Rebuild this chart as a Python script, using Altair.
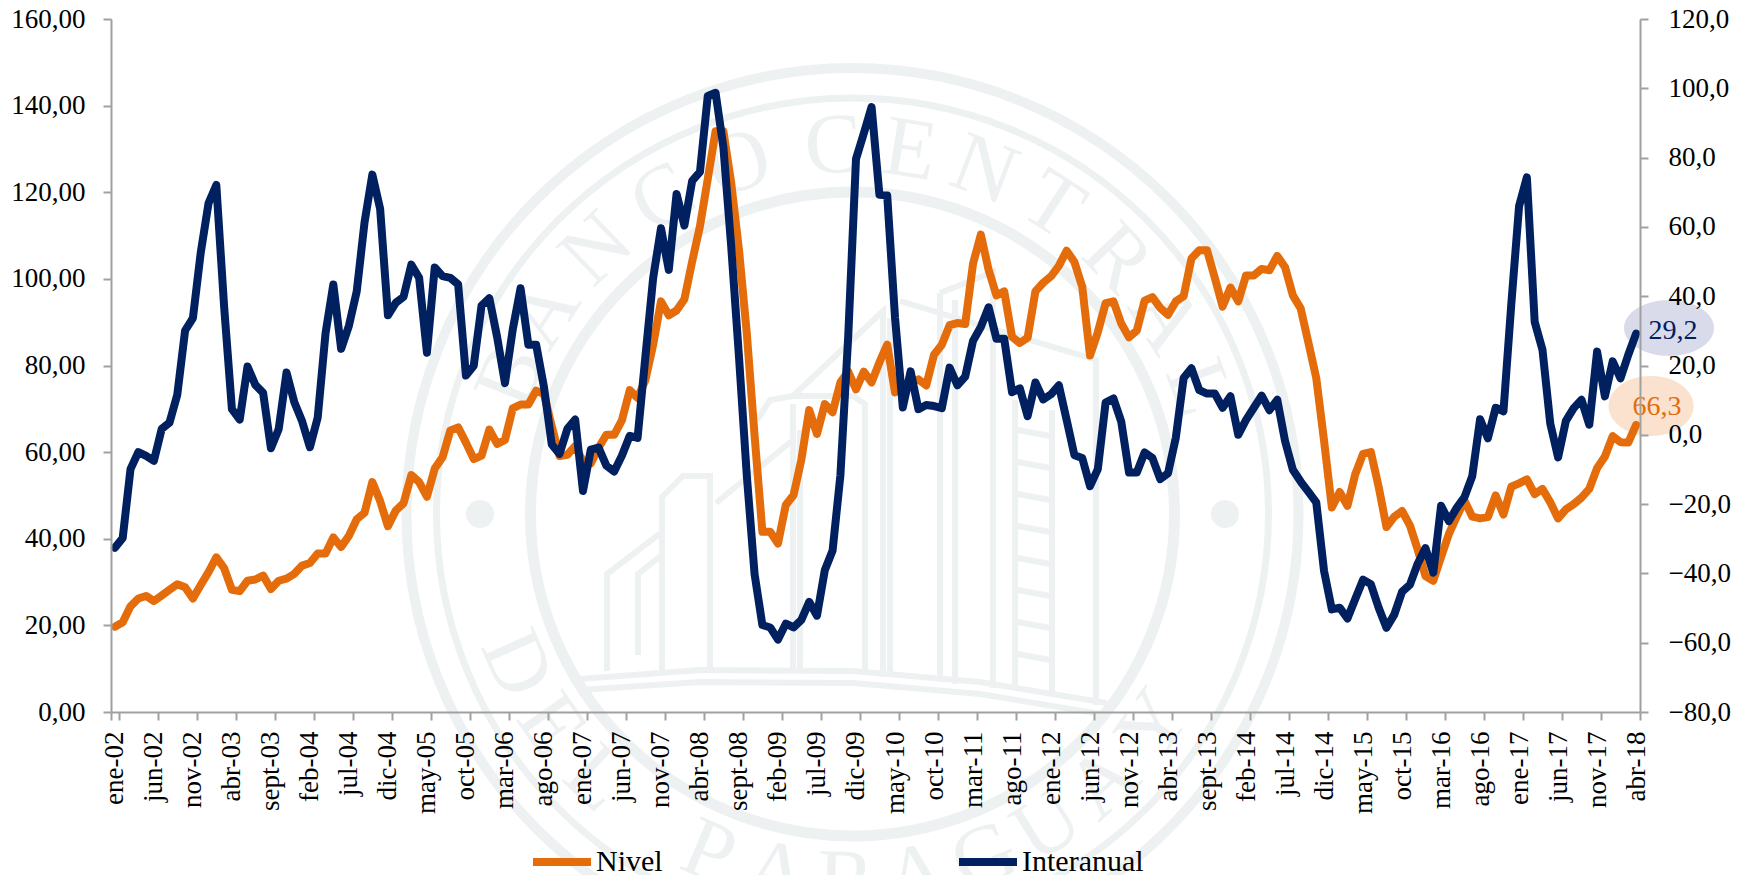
import math
import altair as alt
import pandas as pd

MONTHS = ["ene","feb","mar","abr","may","jun","jul","ago","sept","oct","nov","dic"]
labels = [f"{MONTHS[i % 12]}-{(2 + i // 12):02d}" for i in range(196)]
tick_labels = labels[::5]

nivel = [19.7,20.7,24.4,26.2,26.8,25.6,26.9,28.2,29.5,28.8,
26.2,29.3,32.3,35.7,33.2,28.2,27.9,30.3,30.6,31.5,
28.4,30.3,30.8,31.9,33.8,34.4,36.6,36.6,40.3,38.1,
40.7,44.5,46.0,53.1,48.7,42.9,46.5,48.2,54.7,53.1,
49.7,56.2,58.8,65.0,65.7,62.2,58.4,59.2,65.2,61.9,
62.8,70.1,71.0,71.0,74.2,73.4,66.0,59.1,59.4,61.4,
57.8,57.4,61.0,64.0,64.0,67.4,74.3,72.5,76.6,84.8,
94.8,91.6,92.7,95.3,104.0,112.2,123.1,134.1,134.1,122.2,
106.7,87.5,63.8,41.6,41.6,38.9,47.8,50.1,58.3,69.7,
64.2,71.1,69.2,76.1,78.6,74.5,78.6,76.1,80.7,84.8,
73.8,75.2,76.1,76.8,75.4,82.5,84.8,89.3,89.8,89.6,
103.5,110.2,102.1,96.2,97.1,86.6,85.2,86.4,97.1,99.1,
100.6,103.0,106.5,103.9,98.2,82.3,87.7,94.4,94.8,89.7,
86.5,88.1,95.0,95.8,93.3,91.7,94.8,96.0,104.7,106.6,
106.6,100.2,93.6,98.0,94.8,100.8,100.8,102.3,102.0,105.3,
102.7,96.2,93.2,85.2,77.1,62.6,47.2,50.8,47.6,54.9,
59.6,60.0,52.0,42.7,45.1,46.4,43.1,37.5,31.4,30.3,
35.8,41.1,45.1,48.8,45.1,44.7,45.0,50.0,45.6,52.0,
52.8,53.7,50.3,51.5,48.4,44.7,46.8,48.0,49.5,51.5,
56.3,59.0,63.7,62.3,62.2,66.3]

interanual = [-32.6,-29.8,-9.9,-5.0,-6.1,-7.5,1.7,3.5,11.6,30.1,
33.7,52.5,66.8,72.1,37.0,7.4,4.4,19.7,14.4,12.1,
-3.9,1.7,18.0,9.4,3.9,-3.6,5.0,29.3,43.4,24.8,
31.5,41.4,61.3,75.1,65.2,34.5,38.1,39.8,49.1,45.3,
23.7,48.3,45.8,45.3,43.4,17.1,19.9,37.3,39.4,28.2,
14.9,30.4,42.3,26.0,26.0,13.8,-2.8,-5.5,1.7,4.4,
-16.2,-4.3,-3.7,-8.9,-10.6,-6.0,-0.3,-0.9,22.5,45.3,
59.6,47.6,69.5,60.4,73.3,75.9,97.8,98.7,83.0,54.5,
22.5,-11.7,-40.2,-54.9,-55.6,-59.1,-54.5,-55.6,-53.4,-48.2,
-52.2,-39.1,-33.4,-11.7,28.2,79.6,87.0,94.6,69.3,69.1,
33.9,7.9,18.3,7.4,8.6,8.3,7.7,19.4,14.3,16.8,
27.1,31.1,36.8,27.7,27.7,12.3,13.4,5.4,15.1,10.2,
11.7,14.3,4.3,-5.9,-6.7,-14.8,-9.9,9.3,10.5,3.8,
-10.9,-10.9,-5.1,-6.7,-12.8,-11.1,-0.8,16.4,19.2,12.9,
11.9,11.9,7.8,11.1,0.0,4.3,7.8,11.3,7.1,10.1,
-1.8,-10.1,-13.5,-16.5,-19.5,-39.3,-50.4,-49.9,-53.0,-47.4,
-41.8,-43.1,-49.9,-55.7,-51.9,-45.3,-43.3,-37.2,-32.7,-39.8,
-20.5,-24.9,-21.1,-18.0,-11.9,4.5,-1.0,7.8,6.8,37.7,
66.0,74.3,32.6,24.5,3.2,-6.5,4.0,7.7,10.1,2.9,
24.0,11.1,21.2,16.3,23.1,29.2]

series_names = ["Nivel", "Interanual"]
series_colors = ["#E46C0A", "#002060"]

FONT = "Liberation Serif"
W, H = 1529, 693
OX, OY = 111, 19
WM = "#eef1f2"
CX, CY = 852.5 - OX, 514 - OY
LINE_W = 8

df = pd.DataFrame({"mes": labels, "nivel": nivel, "interanual": interanual})
one = pd.DataFrame({"a": [0]})

# Watermark: rings, dots, building and lettering
def ring(r, sw):
    return alt.Chart(one).mark_point(shape="circle", filled=False, size=(2 * r) ** 2,
                                     stroke=WM, strokeWidth=sw, opacity=1).encode(
        x=alt.value(CX), y=alt.value(CY))

layers = [ring(446, 10), ring(416, 7), ring(322, 11)]

for dx in (-372.5, 372.5):
    layers.append(alt.Chart(one).mark_point(shape="circle", filled=True, size=28 ** 2,
                                            fill=WM, opacity=1).encode(
        x=alt.value(CX + dx), y=alt.value(CY)))

building = [
    [(607,671),(607,574),(662,532),(662,497),(683,476),(710,476),(710,671)],
    [(638,655),(638,574),(662,555)],
    [(662,532),(662,671)],
    [(716,503),(793,440)],
    [(757,420),(770,400),(793,396),(853,396),(865,404),(865,673)],
    [(793,396),(883,311),(883,677)],
    [(793,404),(793,673)],
    [(800,430),(800,673)],
    [(890,318),(890,677)],
    [(900,301),(1096,360),(1096,705)],
    [(940,293),(940,682)],
    [(955,300),(955,684)],
    [(940,293),(993,272),(993,688)],
    [(1015,400),(1015,690)],
    [(1052,410),(1052,695)],
    [(580,679),(700,670),(853,671),(980,682),(1107,703)],
    [(580,690),(700,682),(853,683),(980,694),(1107,715)],
]
for yy in range(430, 680, 32):
    building.append([(1018, yy), (1050, yy + 6)])
path = " ".join(
    "M" + " L".join(f"{x - 852.5:.1f},{y - 514:.1f}" for x, y in poly) for poly in building
)
layers.append(alt.Chart(one).mark_point(shape=path, size=4, filled=False, stroke=WM,
                                        strokeWidth=6, opacity=1).encode(
    x=alt.value(CX), y=alt.value(CY)))

top_letters = list(zip("BANCO", [-68, -57, -44, -31, -18])) + \
              list(zip("CENTRAL", [-3, 9, 21, 33, 46, 58, 70]))
bottom_letters = list(zip("DEL", [-66, -55, -44])) + \
                 list(zip("PARAGUAY", [-23, -12, -1, 10, 21, 32, 43, 55]))
R = 368
for ch, th in top_letters:
    t = math.radians(th)
    layers.append(alt.Chart(one).mark_text(text=ch, font=FONT, fontSize=86, color=WM,
                                           baseline="middle", align="center",
                                           angle=th % 360).encode(
        x=alt.value(CX + R * math.sin(t)), y=alt.value(CY - R * math.cos(t))))
for ch, th in bottom_letters:
    t = math.radians(th)
    layers.append(alt.Chart(one).mark_text(text=ch, font=FONT, fontSize=86, color=WM,
                                           baseline="middle", align="center",
                                           angle=(-th) % 360).encode(
        x=alt.value(CX + R * math.sin(t)), y=alt.value(CY + R * math.cos(t))))

# Ellipses behind the end values
def ellipse(rx, ry):
    return f"M{-rx},0 A{rx},{ry} 0 1,0 {rx},0 A{rx},{ry} 0 1,0 {-rx},0 Z"

layers.append(alt.Chart(one).mark_point(shape=ellipse(45, 28), size=4, filled=True,
                                        fill="#414b9b", opacity=0.2).encode(
    x=alt.value(1669 - OX), y=alt.value(328 - OY)))
layers.append(alt.Chart(one).mark_point(shape=ellipse(42.5, 30), size=4, filled=True,
                                        fill="#E46C0A", opacity=0.2).encode(
    x=alt.value(1651 - OX), y=alt.value(406 - OY)))

x_enc = alt.X("mes:N", sort=labels,
              scale=alt.Scale(type="band", domain=labels, paddingInner=0, paddingOuter=0),
              axis=alt.Axis(values=tick_labels, title=None, labelAngle=270, labelAlign="right",
                            labelBaseline="middle", labelFont=FONT, labelFontSize=27,
                            labelColor="#000000", labelPadding=11, labelOverlap=False,
                            labelBound=False, labelFlush=False, tickBand="extent", tickSize=8,
                            tickColor="#a0a0a0", tickWidth=2, domainColor="#a0a0a0",
                            domainWidth=2, grid=False, zindex=1))

color_scale = alt.Scale(domain=series_names, range=series_colors)
legend = alt.Legend(title=None, orient="none", legendX=529 - OX, legendY=858 - 29 - OY,
                    direction="horizontal", columns=2, columnPadding=280, symbolType="stroke",
                    symbolSize=3364, symbolStrokeWidth=LINE_W, labelFont=FONT, labelFontSize=30,
                    labelColor="#000000", labelOffset=1, rowPadding=0)

def axis(orient, fmt, vals, pad):
    return alt.Axis(orient=orient, values=vals, title=None, grid=False, labelFont=FONT,
                    labelFontSize=27, labelColor="#000000", labelPadding=pad, tickSize=8,
                    tickColor="#a0a0a0", tickWidth=2, domainColor="#a0a0a0", domainWidth=2,
                    labelBound=False, labelFlush=False, labelOverlap=False, zindex=1,
                    labelExpr=f"replace(format(datum.value,'{fmt}'),'.',',')")

left_vals = list(range(0, 161, 20))
right_vals = list(range(-80, 121, 20))

line_nivel = alt.Chart(df).mark_line(strokeWidth=LINE_W, strokeCap="round", strokeJoin="round").encode(
    x=x_enc,
    y=alt.Y("nivel:Q", scale=alt.Scale(domain=[0, 160], nice=False, zero=False),
            axis=axis("left", ".2f", left_vals, 18)),
    color=alt.Color("s:N", scale=color_scale, legend=legend),
).transform_calculate(s="'Nivel'")

line_inter = alt.Chart(df).mark_line(strokeWidth=LINE_W, strokeCap="round", strokeJoin="round").encode(
    x=x_enc,
    y=alt.Y("interanual:Q", scale=alt.Scale(domain=[-80, 120], nice=False, zero=False),
            axis=axis("right", ".1f", right_vals, 20)),
    color=alt.Color("s:N", scale=color_scale, legend=legend),
).transform_calculate(s="'Interanual'")

txt_a = alt.Chart(one).mark_text(text="29,2", font=FONT, fontSize=28, color="#002060",
                                 baseline="middle", align="center").encode(
    x=alt.value(1673 - OX), y=alt.value(331 - OY))
txt_b = alt.Chart(one).mark_text(text="66,3", font=FONT, fontSize=28, color="#E46C0A",
                                 baseline="middle", align="center").encode(
    x=alt.value(1657 - OX), y=alt.value(407 - OY))

chart = alt.layer(*layers, line_nivel, line_inter, txt_a, txt_b).resolve_scale(
    y="independent"
).properties(
    width=W, height=H,
    autosize=alt.AutoSizeParams(type="none"),
    padding={"left": OX - 8, "top": OY - 8, "right": 102, "bottom": 163},
    background="#ffffff",
).configure_view(stroke=None)

chart.save("out.html", embed_options={"renderer": "svg", "actions": False})
